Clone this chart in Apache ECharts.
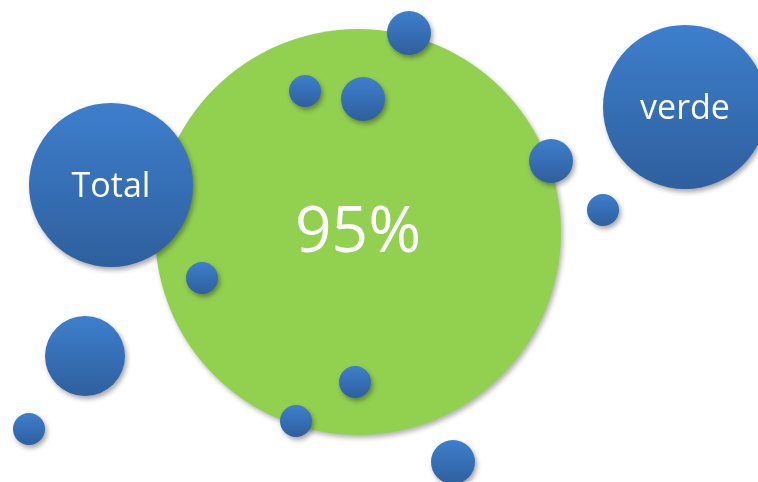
<!DOCTYPE html>
<html><head><meta charset="utf-8">
<script src="https://cdn.jsdelivr.net/npm/echarts@6/dist/echarts.min.js"></script>
<style>html,body{margin:0;padding:0;background:#fff}#c{width:758px;height:482px}</style>
</head><body><div id="c"></div>
<script>
// Main bubble
const mainX = [358];
const mainY = [232];
const mainR = [203];
const mainLabel = ['95%'];
// Blue bubbles
const blueX = [111, 685, 409, 305, 363, 551, 603, 202, 85, 29, 355, 296, 453];
const blueY = [185, 107, 33, 91, 99, 161, 210, 278, 356, 429, 382, 421, 462];
const blueR = [82, 82, 22, 16, 22, 22, 16, 16, 40, 16, 16, 16, 22];
const blueLabel = ['Total', 'verde', '', '', '', '', '', '', '', '', '', '', ''];

const chart = echarts.init(document.getElementById('c'));
const font = '"Open Sans", "Noto Sans", sans-serif';
chart.setOption({
  animation: false,
  grid: {left: 0, right: 0, top: 0, bottom: 0},
  xAxis: {type: 'value', min: 0, max: 758, show: false},
  yAxis: {type: 'value', min: 0, max: 482, inverse: true, show: false},
  series: [
    {
      type: 'scatter',
      data: mainX.map((x, i) => [x, mainY[i], mainR[i], mainLabel[i]]),
      symbolSize: d => d[2] * 2,
      itemStyle: {color: '#92d050', opacity: 1, shadowBlur: 5, shadowColor: 'rgba(0,0,0,0.3)', shadowOffsetX: 2, shadowOffsetY: 3},
      label: {show: true, position: 'inside', offset: [0, 2], formatter: p => p.data[3], color: '#fff', fontSize: 64, fontFamily: font},
      z: 1
    },
    {
      type: 'scatter',
      data: blueX.map((x, i) => [x, blueY[i], blueR[i], blueLabel[i]]),
      symbolSize: d => d[2] * 2,
      itemStyle: {
        opacity: 1,
        color: new echarts.graphic.LinearGradient(0, 0, 0, 1, [
          {offset: 0, color: '#3d7fcd'},
          {offset: 1, color: '#2f5f9d'}
        ]),
        shadowBlur: 5, shadowColor: 'rgba(0,0,0,0.35)', shadowOffsetX: 2, shadowOffsetY: 3
      },
      label: {show: true, position: 'inside', offset: [0, 2], formatter: p => p.data[3], color: '#fff', fontSize: 34, fontFamily: font},
      z: 2
    }
  ]
});
</script></body></html>
